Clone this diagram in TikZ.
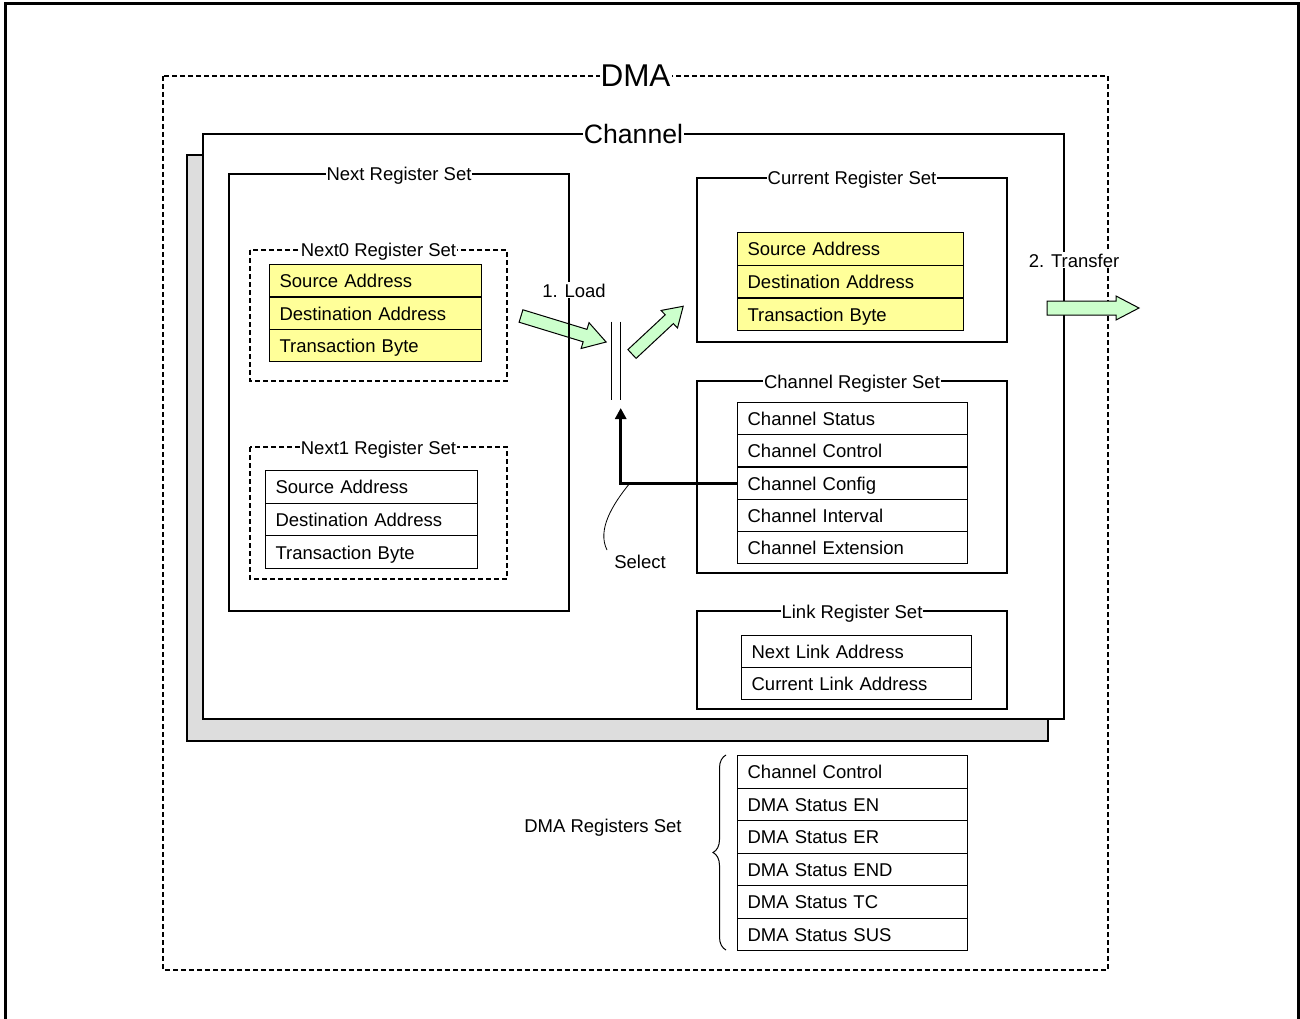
\documentclass[tikz,border=0pt]{standalone}
\usepackage{fontspec}
\setmainfont{Liberation Sans}
\usetikzlibrary{arrows.meta,decorations.pathreplacing}
\definecolor{regyellow}{HTML}{FFFF99}
\definecolor{arrgreen}{HTML}{CCFFCC}
\definecolor{shadowgray}{HTML}{DDDDDD}
\newcommand\blkarrow[7]{%
  \draw[blockarrow, shift={(#1,#2)}, rotate=#3]
    (0,{-#5/2}) -- ({#4-#7},{-#5/2}) -- ({#4-#7},{-#6/2}) -- (#4,0)
    -- ({#4-#7},{#6/2}) -- ({#4-#7},{#5/2}) -- (0,{#5/2}) -- cycle;}
\begin{document}
\begin{tikzpicture}[x=1pt,y=-1pt, line width=1.2pt,
  font=\fontsize{18.5}{22}\selectfont,
  regbox/.style={draw, rectangle, anchor=north west, inner xsep=10pt, inner ysep=0pt, align=left, text height=14pt, text depth=0pt},
  frametitle/.style={fill=white, inner xsep=1pt, inner ysep=1pt, text height=14pt, text depth=0pt},
  dashframe/.style={dash pattern=on 5pt off 3pt},
  blockarrow/.style={draw, fill=arrgreen, line width=1pt, line join=miter},
  selectline/.style={line width=3pt, -{Triangle[length=11pt,width=11pt]}}]
\useasboundingbox (0,0) rectangle (1300,1019);
% outer frame
\draw[line width=3pt] (5,1030) -- (5,4) -- (1298.5,4) -- (1298.5,1030);
% DMA frame
\draw[dashframe] (163,76) rectangle (1108,970);
\node[fill=white, inner xsep=1pt, inner ysep=1pt, font=\fontsize{31.5}{36}\selectfont] (tdma) at (635.5,76) {DMA};
% channel with shadow
\draw[fill=shadowgray] (187,155) rectangle (1048,741);
\draw[fill=white] (203,134) rectangle (1064,719);
\node[fill=white, inner xsep=1pt, inner ysep=1pt, font=\fontsize{26.6}{30}\selectfont] (tchan) at (633.5,133.5) {Channel};

% green arrows (under lines)
\blkarrow{521}{316}{-17}{89}{13}{27}{22}
\blkarrow{632}{354}{43}{70}{12}{24}{19}

% Next register set
\draw (229,174) rectangle (569,611);
\node[frametitle] (tnext) at (399,174) {Next Register Set};
\draw[dashframe] (250,250) rectangle (507,381);
\node[frametitle] (tnext0) at (378.5,249) {Next0 Register Set};
\foreach \t/\n [count=\i from 0] in {Source Address/n0src, Destination Address/n0dst, Transaction Byte/n0tb}
  \node[regbox, fill=regyellow, text width=192pt, minimum height=32.4pt] (\n) at (269,{264+\i*32.4}) {\t};
\draw[dashframe] (250,447) rectangle (507,579);
\node[frametitle] (tnext1) at (378.5,447) {Next1 Register Set};
\foreach \t/\n [count=\i from 0] in {Source Address/n1src, Destination Address/n1dst, Transaction Byte/n1tb}
  \node[regbox, text width=192pt, minimum height=32.6pt] (\n) at (265,{470+\i*32.6}) {\t};

% Current register set
\draw (697,178) rectangle (1007,342);
\node[frametitle] (tcur) at (852,178) {Current Register Set};
\foreach \t/\n [count=\i from 0] in {Source Address/csrc, Destination Address/cdst, Transaction Byte/ctb}
  \node[regbox, fill=regyellow, text width=206pt, minimum height=32.7pt] (\n) at (737,{232+\i*32.7}) {\t};

% Channel register set
\draw (697,381) rectangle (1007,573);
\node[frametitle] (tchreg) at (852,381) {Channel Register Set};
\foreach \t/\n [count=\i from 0] in {Channel Status/chst, Channel Control/chctl, Channel Config/chcfg, Channel Interval/chint, Channel Extension/chext}
  \node[regbox, text width=210pt, minimum height=32.2pt] (\n) at (737,{402+\i*32.2}) {\t};

% Link register set
\draw (697,611) rectangle (1007,709);
\node[frametitle] (tlink) at (852,611) {Link Register Set};
\foreach \t/\n [count=\i from 0] in {Next Link Address/lnext, Current Link Address/lcur}
  \node[regbox, text width=210pt, minimum height=32pt] (\n) at (741,{635+\i*32}) {\t};

% DMA registers set
\foreach \t/\n [count=\i from 0] in {Channel Control/dchctl, DMA Status EN/dsen, DMA Status ER/dser, DMA Status END/dsend, DMA Status TC/dstc, DMA Status SUS/dssus}
  \node[regbox, text width=210pt, minimum height=32.5pt] (\n) at (737,{755+\i*32.5}) {\t};
\draw[line width=1pt, decorate, decoration={brace, amplitude=13pt}] (726,950) -- (726,755);
\node[text height=14pt, text depth=0pt] (ldmaregs) at (603,825) {DMA Registers Set};

% select mux bars
\draw (611.7,321.5) -- (611.7,399.5);
\draw (620.7,321.5) -- (620.7,399.5);
\coordinate (barbot) at (620.7,408);
\draw[selectline] (chcfg.west) -| (barbot);
\draw[line width=0.8pt] (630,483) .. controls (612,505) and (597,530) .. (607,550);
\node[text height=14pt, text depth=0pt] (lselect) at (640,561.5) {Select};

% labels
\node[fill=white, inner sep=1pt, text height=14pt, text depth=0pt] (lload) at (574,290) {1. Load};
\node[fill=white, inner sep=1pt, text height=14pt, text depth=0pt] (ltransfer) at (1074,260) {2. Transfer};

% transfer arrow (on top)
\blkarrow{1047}{308}{0}{92}{14}{24}{23}
\end{tikzpicture}
\end{document}
